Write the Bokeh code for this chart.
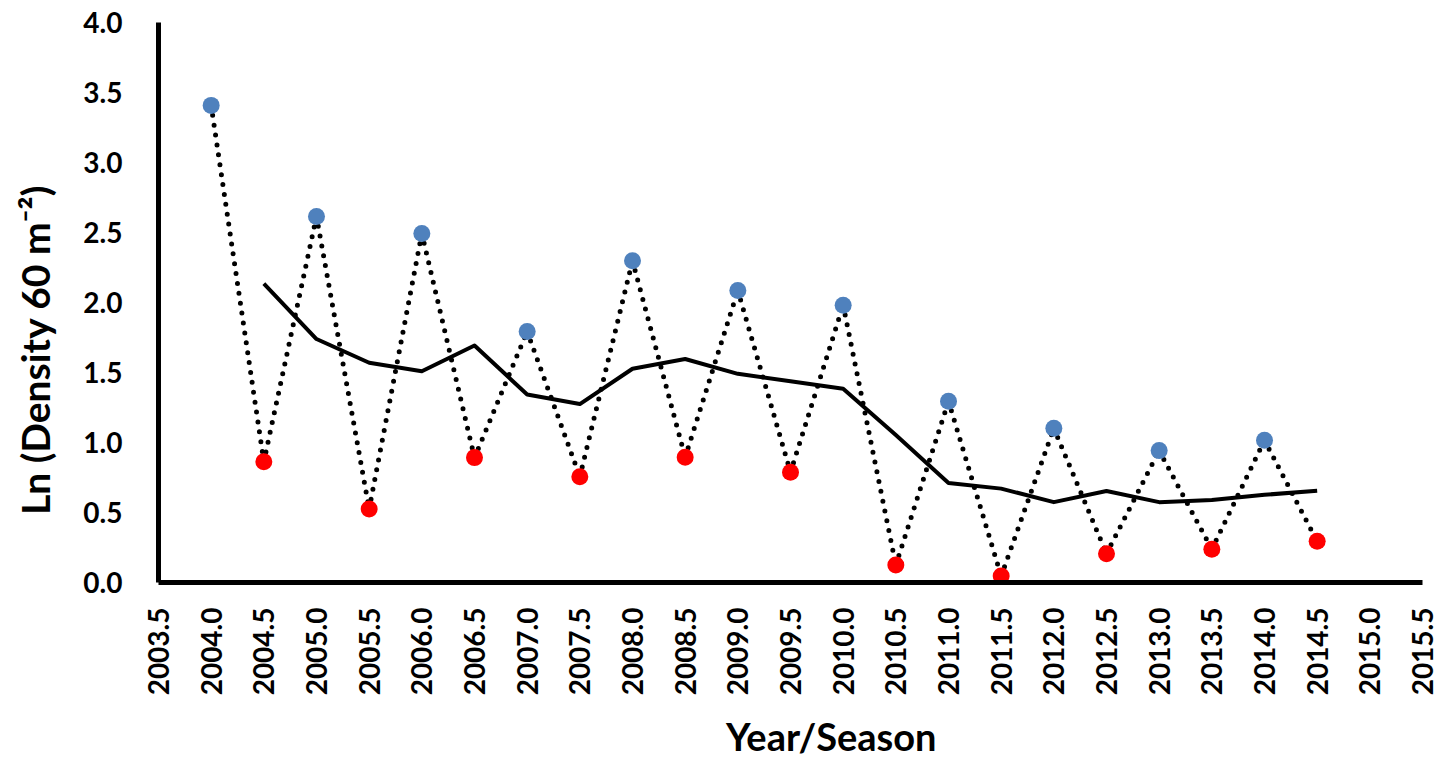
from math import pi

import pandas as pd
from bokeh.embed import file_html
from bokeh.models import FixedTicker, PrintfTickFormatter, Range1d
from bokeh.plotting import figure
from bokeh.resources import INLINE

# Survey years; each year has a first-season (x.0) and second-season (x.5) sample
years = [2004, 2005, 2006, 2007, 2008, 2009, 2010, 2011, 2012, 2013, 2014]
first_season = [3.408, 2.615, 2.493, 1.793, 2.298, 2.086, 1.981, 1.295, 1.102, 0.942, 1.016]
second_season = [0.863, 0.525, 0.892, 0.756, 0.895, 0.788, 0.125, 0.046, 0.206, 0.237, 0.294]

x_ticks = [2003.5, 2004.0, 2004.5, 2005.0, 2005.5, 2006.0, 2006.5, 2007.0, 2007.5,
           2008.0, 2008.5, 2009.0, 2009.5, 2010.0, 2010.5, 2011.0, 2011.5, 2012.0,
           2012.5, 2013.0, 2013.5, 2014.0, 2014.5, 2015.0, 2015.5]
y_ticks = [0.0, 0.5, 1.0, 1.5, 2.0, 2.5, 3.0, 3.5, 4.0]

# Interleave the two seasons into one time series
t, v = [], []
for yr, a, b in zip(years, first_season, second_season):
    t += [yr, yr + 0.5]
    v += [a, b]
series = pd.DataFrame({"t": t, "v": v})
# Two-period moving average trendline
series["ma"] = series["v"].rolling(2).mean()
trend = series.dropna()

FONT = "Lato"
NBSP = "\u00a0"

p = figure(
    frame_width=1264, frame_height=560,
    min_border_left=158, min_border_right=34, min_border_top=22, min_border_bottom=178,
    x_range=Range1d(2003.5, 2015.5), y_range=Range1d(0, 4),
    output_backend="svg", toolbar_location=None,
    background_fill_color="white", border_fill_color="white",
)
p.outline_line_color = None
p.xgrid.visible = False
p.ygrid.visible = False

for ax in (p.xaxis, p.yaxis):
    ax.axis_line_width = 5
    ax.axis_line_color = "black"
    ax.major_tick_line_color = None
    ax.minor_tick_line_color = None
    ax.major_label_text_font = FONT
    ax.major_label_text_font_style = "bold"
    ax.major_label_text_font_size = "28px"
    ax.major_label_text_color = "black"
    ax.formatter = PrintfTickFormatter(format="%.1f")
    ax.axis_label_text_font = FONT
    ax.axis_label_text_font_style = "bold"
    ax.axis_label_text_color = "black"

p.xaxis.ticker = FixedTicker(ticks=x_ticks)
p.yaxis.ticker = FixedTicker(ticks=y_ticks)
p.xaxis.major_label_orientation = pi / 2
p.xaxis.major_label_standoff = 19
p.yaxis.major_label_standoff = 30

# Axis titles sit a little off the frame centre, padded with non-breaking spaces
p.yaxis.axis_label = "Ln (Density 60 m\u207b\u00b2)" + NBSP * 10
p.yaxis.axis_label_text_font_size = "39px"
p.yaxis.axis_label_standoff = 22
p.xaxis.axis_label = NBSP * 9 + "Year/Season"
p.xaxis.axis_label_text_font_size = "38px"
p.xaxis.axis_label_standoff = 15

# Dotted connectors between consecutive samples
p.segment(
    x0=series["t"][:-1], y0=series["v"][:-1], x1=series["t"][1:], y1=series["v"][1:],
    line_color="black", line_width=5, line_dash="0 10", line_cap="round",
)

# Moving average trendline
p.line(trend["t"], trend["ma"], line_color="black", line_width=4, line_join="round")

# Seasonal samples
p.scatter(years, first_season, size=17, fill_color="#4F81BD", line_color=None)
p.scatter([yr + 0.5 for yr in years], second_season, size=17, fill_color="#FF0000", line_color=None)

open("out.html", "w").write(file_html(p, INLINE))
